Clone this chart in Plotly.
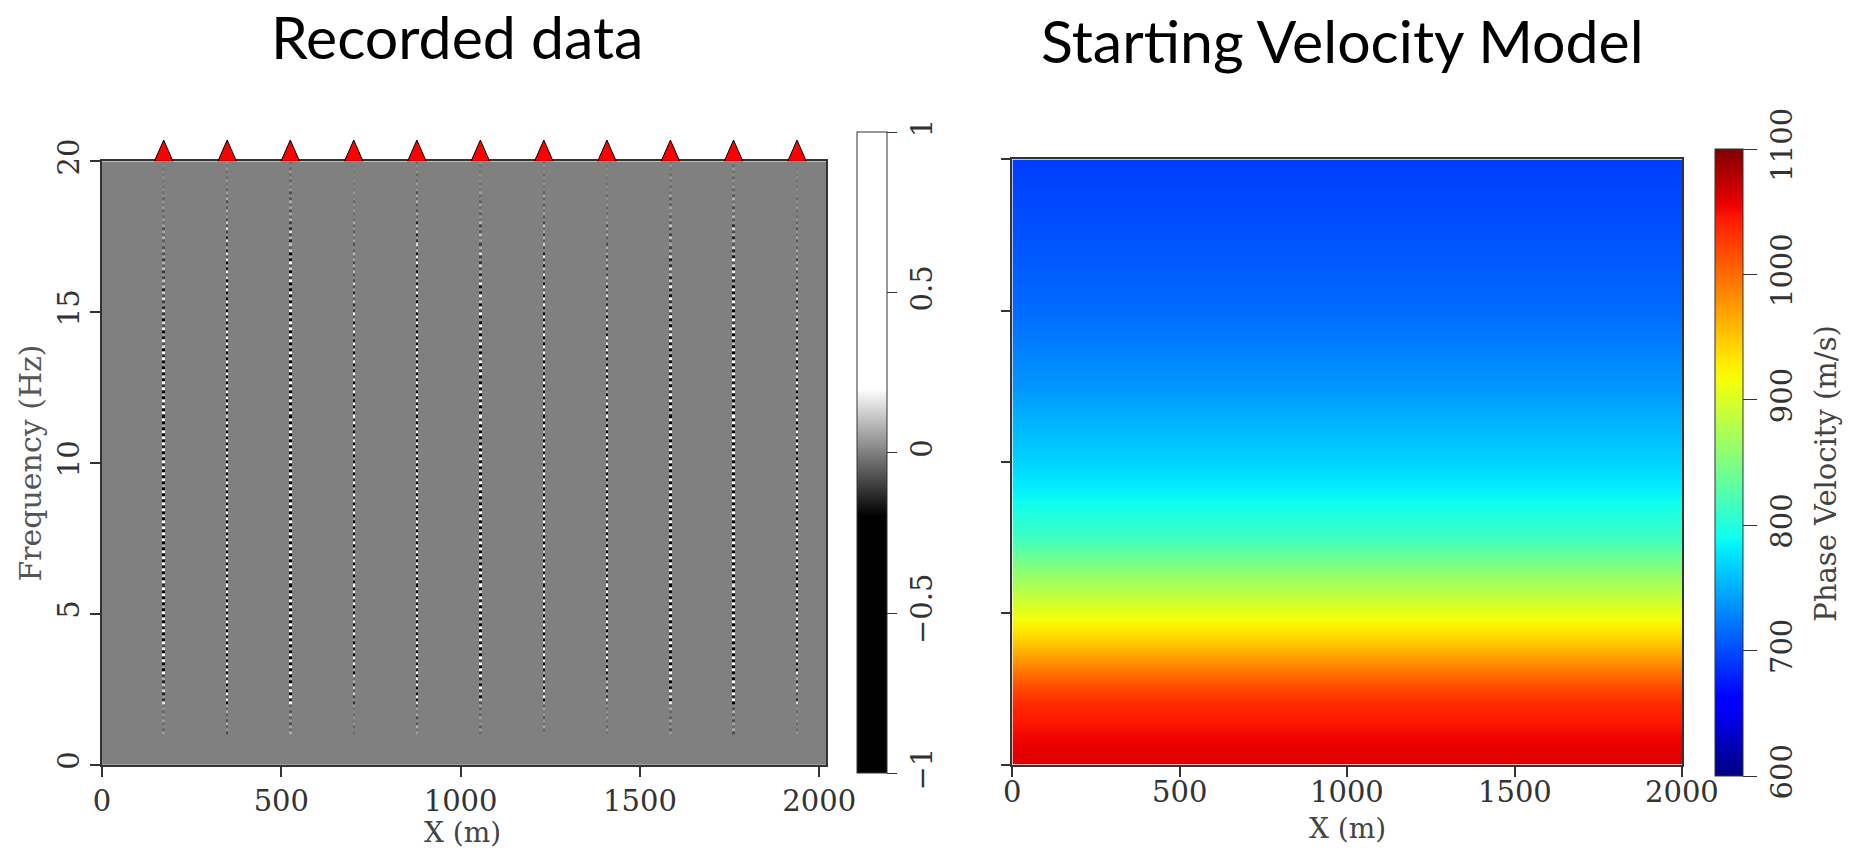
import numpy as np
import plotly.graph_objects as go

W, H = 1852, 854

# ---------------- data ----------------
receivers_x = [172, 349, 525, 702, 878, 1055, 1232, 1408, 1585, 1761, 1938]
trace_amp = [0.5, 1.0, 0.95, 0.45, 1.0, 0.6, 0.75, 0.5, 0.7, 0.95, 0.45]
# envelope of each trace per 1 Hz band (0-1 Hz ... 19-20 Hz)
freq_envelope = [0.0, 0.08, 0.3, 0.55, 0.7, 0.8, 0.85, 0.85, 0.85, 0.8,
                 0.75, 0.7, 0.6, 0.5, 0.4, 0.3, 0.22, 0.15, 0.08, 0.04]
# oscillation of the recorded samples along frequency (0.1 Hz samples)
osc_pattern = [1.0, -0.8, 0.3, -1.0, 0.9, -0.4, 0.7, -1.0, 0.5, -0.6,
               1.0, -0.9, 0.2, -0.7, 1.0, -0.5, 0.8, -1.0, 0.6, -0.3]

depth_levels = [0, 1, 2, 2.75, 3.5, 4, 4.9, 5.5, 6.6, 7.5, 8.85, 10, 12.5, 15, 17.5, 20]
velocity = [1062, 1052, 1037, 1010, 975, 950, 912, 890, 850, 815, 787, 769, 738, 716, 703, 693]
model_x = [0, 2000]

x_ticks = [0, 500, 1000, 1500, 2000]
freq_ticks = [0, 5, 10, 15, 20]
amp_ticks = [-1, -0.5, 0, 0.5, 1]
vel_ticks = [600, 700, 800, 900, 1000, 1100]

# ---------------- build recorded-data grid ----------------
X_MAX_LEFT = 2020
half_w = 3.5
x_edges = [0]
for xr in receivers_x:
    x_edges += [xr - half_w, xr + half_w]
x_edges.append(X_MAX_LEFT)
f_edges = np.round(np.arange(0, 20.0001, 0.1), 2)
nrows = len(f_edges) - 1
env_rows = np.repeat(freq_envelope, nrows // len(freq_envelope))
z = np.zeros((nrows, 2 * len(receivers_x) + 1))
for i, a in enumerate(trace_amp):
    pat = np.tile(np.roll(osc_pattern, 3 * i), nrows // len(osc_pattern))
    z[:, 2 * i + 1] = a * env_rows * pat

vel_z = [[v, v] for v in velocity]

SERIF = "DejaVu Serif"
TXT = "#333333"
FS = 29
tickfont = dict(family=SERIF, size=FS, color=TXT)

gray_scale = [[0, "#000000"], [0.4, "#000000"], [0.6, "#ffffff"], [1, "#ffffff"]]
jet = [[0, "rgb(0,0,128)"], [0.11, "rgb(0,0,255)"], [0.125, "rgb(0,0,255)"],
       [0.36, "rgb(0,235,255)"], [0.38, "rgb(15,255,240)"], [0.5, "rgb(128,255,128)"],
       [0.63, "rgb(245,255,10)"], [0.66, "rgb(255,235,0)"], [0.89, "rgb(255,25,0)"],
       [0.91, "rgb(237,0,0)"], [1, "rgb(128,0,0)"]]

fig = go.Figure()

fig.add_trace(go.Heatmap(
    x=x_edges, y=f_edges, z=z, zmin=-1, zmax=1, colorscale=gray_scale,
    xaxis="x", yaxis="y", hoverinfo="skip",
    colorbar=dict(
        x=866 / W, xanchor="left", xpad=0, ypad=0,
        y=1 - 444.5 / H, yanchor="middle",
        thickness=30, thicknessmode="pixels", len=641, lenmode="pixels",
        outlinewidth=1, outlinecolor=TXT,
        tickvals=amp_ticks, ticks="outside", ticklen=10, tickcolor=TXT,
        tickangle=-90, tickfont=tickfont,
    ),
))

fig.add_trace(go.Heatmap(
    x=model_x, y=depth_levels, z=vel_z, zmin=600, zmax=1100, colorscale=jet,
    zsmooth="best", xaxis="x2", yaxis="y2", hoverinfo="skip",
    colorbar=dict(
        x=1743 / W, xanchor="left", xpad=0, ypad=0,
        y=1 - 454.5 / H, yanchor="middle",
        thickness=28, thicknessmode="pixels", len=627, lenmode="pixels",
        outlinewidth=1, outlinecolor=TXT,
        tickvals=vel_ticks, ticks="outside", ticklen=14, tickcolor=TXT,
        tickangle=-90, tickfont=tickfont,
    ),
))

# receiver triangles
tri_x, tri_y = [], []
tri_half = 26
for xr in receivers_x:
    tri_x += [xr - tri_half, xr + tri_half, xr, xr - tri_half, None]
    tri_y += [0, 0, 1, 0, None]
fig.add_trace(go.Scatter(
    x=tri_x, y=tri_y, mode="lines", fill="toself", fillcolor="#ff0000",
    line=dict(color="#000000", width=1), xaxis="x3", yaxis="y3",
    hoverinfo="skip", showlegend=False,
))

axis_common = dict(showgrid=False, zeroline=False, ticks="outside", ticklen=10,
                   tickwidth=1.5, tickcolor=TXT, showline=True, mirror=True,
                   linecolor=TXT, linewidth=1.5, tickfont=tickfont)

fig.update_layout(
    width=W, height=H, margin=dict(l=0, r=0, t=0, b=0),
    paper_bgcolor="white", plot_bgcolor="white", showlegend=False,
    xaxis=dict(domain=[95 / W, 835 / W], range=[0, X_MAX_LEFT], tickvals=x_ticks,
               anchor="y", **axis_common),
    yaxis=dict(domain=[1 - 767 / H, 1 - 143 / H], range=[0, 20], tickvals=freq_ticks,
               tickangle=-90, anchor="x", **axis_common),
    xaxis2=dict(domain=[1025 / W, 1709 / W], range=[0, 2000], tickvals=x_ticks,
                showticklabels=False, anchor="y2", **axis_common),
    yaxis2=dict(domain=[1 - 767 / H, 1 - 141 / H], range=[0, 20], tickvals=freq_ticks,
                showticklabels=False, anchor="x2", **axis_common),
    xaxis3=dict(domain=[95 / W, 835 / W], range=[0, X_MAX_LEFT], visible=False,
                anchor="y3", fixedrange=True),
    yaxis3=dict(domain=[1 - 143 / H, 1 - 121 / H], range=[0, 1], visible=False,
                anchor="x3", fixedrange=True),
)

# right-panel x tick labels (sit closer to the axis than on the left panel)
for t in x_ticks:
    fig.add_annotation(text=str(t), x=t, xref="x2", y=1 - 795 / H, yref="paper",
                       xanchor="center", yanchor="middle", showarrow=False,
                       font=tickfont)


def px_ann(text, x, y, size, family, color, angle=0):
    fig.add_annotation(text=text, x=x / W, y=1 - y / H, xref="paper", yref="paper",
                       xanchor="center", yanchor="middle", showarrow=False,
                       textangle=angle, font=dict(family=family, size=size, color=color))


px_ann("Recorded data", 458, 14, 59, "Lato", "#000000")
px_ann("Starting Velocity Model", 1362, 18, 59, "Lato", "#000000")
px_ann("Frequency (Hz)", 22, 455, 30, SERIF, "#555555", -90)
px_ann("X (m)", 463, 837, 28, SERIF, "#444444")
px_ann("X (m)", 1367, 833, 28, SERIF, "#444444")
px_ann("Phase Velocity (m/s)", 1856, 466, 29, SERIF, "#444444", -90)

fig.write_html("out.html")
